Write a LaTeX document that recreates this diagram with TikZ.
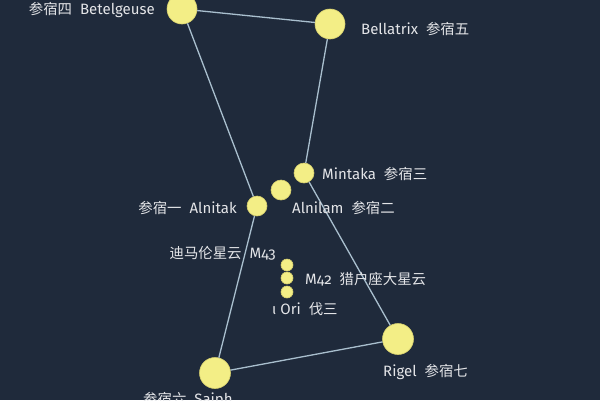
\documentclass[tikz,border=0pt]{standalone}
\usepackage{fontspec}
\setmainfont{Fira Sans}[Numbers=OldStyle]
\newfontfamily\cjk{Noto Sans CJK SC}[Scale=0.96]
\newcommand{\zh}[1]      {{\cjk #1}}
\newcommand{\gap}        {\hspace{8pt}}
\definecolor{sky}{HTML}{1F2A3B}
\definecolor{starfill}{HTML}{F3EE86}
\definecolor{starrim}{HTML}{D6CF6E}
\definecolor{linkcol}{HTML}{A9BFCE}

\begin{document}
\begin{tikzpicture}[x=1pt,y=-1pt,
    star/.style={circle,fill=starfill,draw=starrim,line width=0.6pt,inner sep=0pt,minimum size=#1},
    lbl/.style={text=white!88!sky,font=\fontsize{15}{17}\selectfont,inner sep=0pt},
    link/.style={draw=linkcol,line width=1.3pt}]
   \fill[sky] (0,0) rectangle (600,400);
   \useasboundingbox (0,0) rectangle (600,400);
   % stars
   \node[star=30pt] (bet) at (182, 9) {};
   \node[star=30pt] (bel) at (330,24) {};
   \node[star=20pt] (min) at (304,173) {};
   \node[star=20pt] (aln) at (281,190) {};
   \node[star=20pt] (alk) at (257,206) {};
   \node[star=12pt] (m43) at (287,265) {};
   \node[star=12pt] (m42) at (287,278) {};
   \node[star=12pt] (iot) at (287,292) {};
   \node[star=31pt] (rig) at (398,339) {};
   \node[star=31pt] (sai) at (215,373) {};
   % lines
   \draw[link] (bet) -- (bel);
   \draw[link] (bel) -- (min);
   \draw[link] (bet) -- (alk);
   \draw[link] (alk) -- (sai);
   \draw[link] (sai) -- (rig);
   \draw[link] (min) -- (rig);
   % labels
   \node[lbl,anchor=east] (betl) at (155, 10) {\zh{参宿四}\gap Betelgeuse};
   \node[lbl,anchor=west] (bell) at (361, 29) {Bellatrix\gap\zh{参宿五}};
   \node[lbl,anchor=west] (minl) at (322,174) {Mintaka\gap\zh{参宿三}};
   \node[lbl,anchor=west] (alnl) at (292,208) {Alnilam\gap\zh{参宿二}};
   \node[lbl,anchor=east] (alkl) at (237,208) {\zh{参宿一}\gap Alnitak};
   \node[lbl,anchor=east] (m43l) at (276,253) {\zh{迪马伦星云}\gap M43};
   \node[lbl,anchor=west] (m42l) at (305,279) {M42\gap\zh{猎户座大星云}};
   \node[lbl,anchor=west] (iotl) at (272,309) {ι Ori\gap\zh{伐三}};
   \node[lbl,anchor=west] (rigl) at (383,372) {Rigel\gap\zh{参宿七}};
   \node[lbl,anchor=west] (sail) at (143,400) {\zh{参宿六}\gap Saiph};
\end{tikzpicture}
\end{document}
